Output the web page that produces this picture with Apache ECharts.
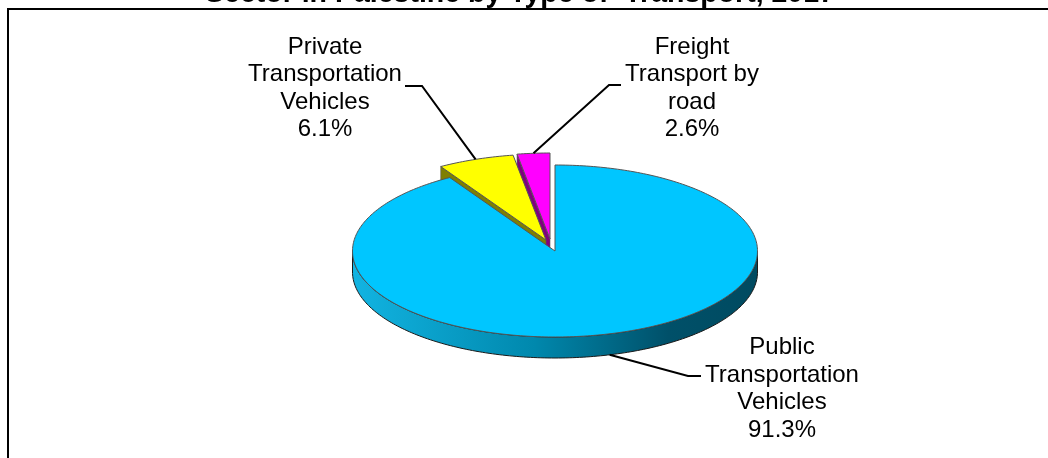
<!DOCTYPE html>
<html>
<head>
<meta charset="utf-8">
<style>
html, body { margin: 0; padding: 0; background: #fff; }
#main { width: 1048px; height: 458px; }
</style>
<script src="https://cdn.jsdelivr.net/npm/echarts@6/dist/echarts.min.js"></script>
</head>
<body>
<div id="main"></div>
<script>
const titleText = 'Sector in Palestine by Type of  Transport, 2017'
const categories = ['Public\nTransportation\nVehicles', 'Private\nTransportation\nVehicles', 'Freight\nTransport by\nroad']
const shares = [91.3, 6.1, 2.6]

const pie = {cx: 555, cy: 251, rx: 202.5, ry: 86, depth: 21}
const fontFamily = '"Liberation Sans", Arial, sans-serif'
const lineColor = '#000'
const edgeColor = '#555'

// per slice look: pull out of the pie, colours, where the label sits
const looks = [
    {
        dx: 0, dy: 0, top: '#00c6ff', wall: '#004f66',
        label: [782, 389], elbow: [688, 376], end: [701, 376]
    },
    {
        dx: -9, dy: -11, top: '#ffff00', wall: '#7f7f00',
        label: [325, 88.5], elbow: [422, 86], end: [405, 86]
    },
    {
        dx: -5, dy: -12, top: '#ff00ff', wall: '#800080',
        label: [692, 88.5], elbow: [609, 85], end: [621, 85]
    }
]

const total = shares.reduce((a, b) => a + b, 0)

// angle is clockwise from 12 o'clock, in degrees
const rimPoint = (a, look, drop) => {
    let t = a * Math.PI / 180
    return [
        pie.cx + look.dx + pie.rx * Math.sin(t),
        pie.cy + look.dy - pie.ry * Math.cos(t) + (drop || 0)
    ]
}

const arcPoints = (from, to, look, drop) => {
    let pts = []
    let steps = Math.ceil(Math.abs(to - from))
    for (let i = 0; i <= steps; i++) {
        pts.push(rimPoint(from + (to - from) * i / steps, look, drop))
    }
    return pts
}

const renderSlice = (params, api) => {
    let idx = api.value(0)
    let look = looks[idx]
    let start = 0
    for (let i = 0; i < idx; i++) {
        start += shares[i]
    }
    let from = start / total * 360
    let to = (start + api.value(1)) / total * 360
    let mid = (from + to) / 2
    let apex = [pie.cx + look.dx, pie.cy + look.dy]
    let children = []

    if (idx === 0) {
        // front rim of the big slice, light on the left and dark on the right
        let front = arcPoints(90, 270, look)
        let frontLow = arcPoints(270, 90, look, pie.depth)
        children.push({
            type: 'polygon',
            shape: {points: front.concat(frontLow)},
            style: {
                fill: {
                    type: 'linear', x: 1, y: 0, x2: 0, y2: 0,
                    colorStops: [
                        {offset: 0, color: '#004a60'},
                        {offset: 0.22, color: '#005069'},
                        {offset: 0.55, color: '#0088ad'},
                        {offset: 1, color: '#12b4e2'}
                    ]
                },
                stroke: '#1a1a1a',
                lineWidth: 1
            }
        })
    }
    else {
        // cut wall on the left side of the pulled out slices
        let low = [apex[0], apex[1] + pie.depth]
        let rim = rimPoint(from, look)
        let rimLow = rimPoint(from, look, pie.depth)
        children.push({
            type: 'polygon',
            shape: {points: [rim, apex, low, rimLow]},
            style: {fill: look.wall, stroke: edgeColor, lineWidth: 0.6}
        })
    }

    children.push({
        type: 'polygon',
        shape: {points: [apex].concat(arcPoints(from, to, look))},
        style: {fill: look.top, stroke: edgeColor, lineWidth: 1}
    })

    // leader line leaves the rim in the middle of the slice
    let onFront = mid > 90 && mid < 270
    let anchor = rimPoint(mid, look, onFront ? pie.depth : 0)
    children.push({
        type: 'polyline',
        shape: {points: [anchor, look.elbow, look.end]},
        style: {fill: null, stroke: lineColor, lineWidth: 2}
    })

    children.push({
        type: 'text',
        style: {
            x: look.label[0],
            y: look.label[1],
            text: categories[idx] + '\n' + api.value(1).toFixed(1) + '%',
            fill: '#000',
            font: '24px ' + fontFamily,
            align: 'center',
            verticalAlign: 'middle',
            lineHeight: 27.5
        }
    })

    return {type: 'group', children: children}
}

let myChart = echarts.init(document.getElementById('main'))

// magenta first, then yellow, the big slice last so it covers their walls
let rows = shares.map((v, i) => [i, v])

myChart.setOption({
    backgroundColor: '#fff',
    animation: false,
    title: {
        text: titleText,
        left: 520,
        top: -20,
        textAlign: 'center',
        padding: 0,
        textStyle: {
            color: '#000',
            fontFamily: fontFamily,
            fontWeight: 'bold',
            fontSize: 28.5
        }
    },
    graphic: [{
        type: 'rect',
        silent: true,
        z: 10,
        shape: {x: 8, y: 9, width: 1100, height: 480},
        style: {fill: null, stroke: '#000', lineWidth: 2}
    }],
    series: [{
        type: 'custom',
        coordinateSystem: 'none',
        renderItem: renderSlice,
        data: rows.slice().reverse(),
        encode: {value: 1}
    }]
})
</script>
</body>
</html>
